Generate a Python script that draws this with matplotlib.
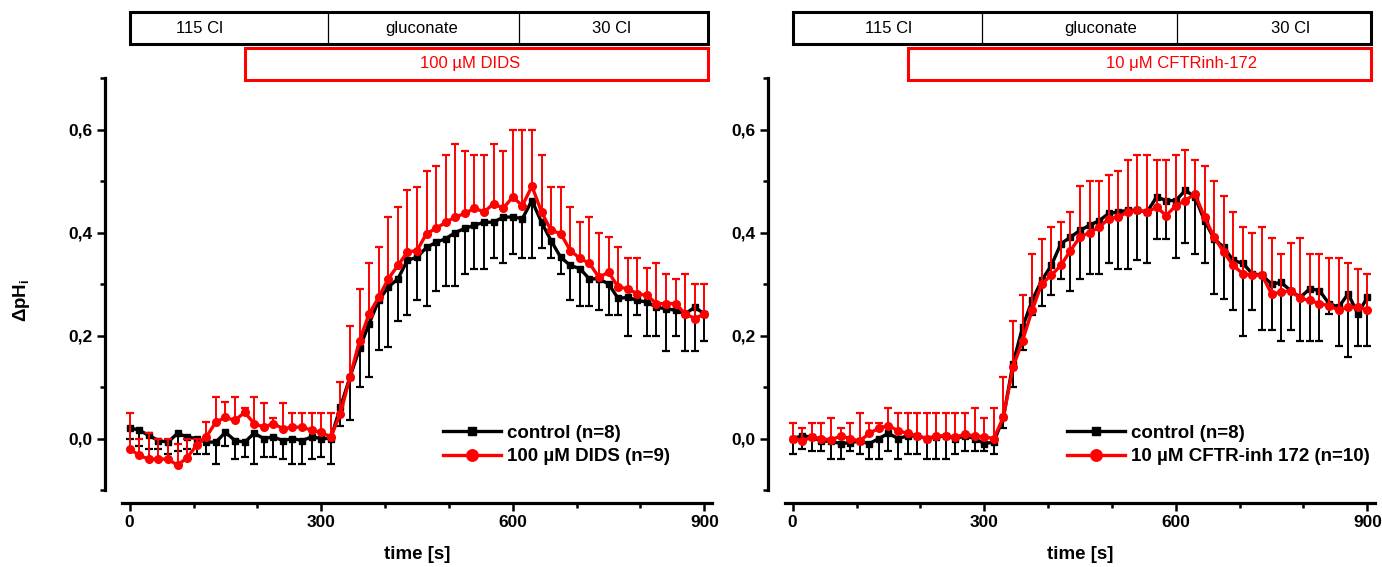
import matplotlib.pyplot as plt
from matplotlib.patches import Rectangle
from matplotlib.transforms import blended_transform_factory
from matplotlib.ticker import FixedLocator, FuncFormatter

plt.rcParams['font.family'] = ['Liberation Sans', 'DejaVu Sans']
plt.rcParams['font.weight'] = 'bold'
plt.rcParams['mathtext.fontset'] = 'custom'
plt.rcParams['mathtext.rm'] = 'Liberation Sans:bold'
plt.rcParams['mathtext.it'] = 'Liberation Sans:bold'

# time axis (s)
time = list(range(0, 901, 15))

# left panel: control vs 100 uM DIDS
ctrl_L = [0.021, 0.016, 0.006, -0.004, -0.007, 0.010, 0.003, 0.000, -0.007, -0.007, 0.012,
          -0.004, -0.007, 0.010, 0.000, 0.003, -0.004, 0.000, -0.004, 0.003, 0.000,
          0.000, 0.061, 0.119, 0.175, 0.223, 0.268, 0.294, 0.310, 0.346, 0.352,
          0.371, 0.381, 0.388, 0.400, 0.408, 0.414, 0.420, 0.420, 0.430, 0.430,
          0.427, 0.462, 0.420, 0.384, 0.352, 0.336, 0.330, 0.310, 0.310, 0.300,
          0.272, 0.274, 0.268, 0.265, 0.255, 0.252, 0.249, 0.242, 0.255, 0.242]
ctrl_lo_L = [0.0, -0.014, -0.02, -0.02, -0.03, -0.025, -0.02, -0.03, -0.03, -0.05, -0.015,
             -0.04, -0.035, -0.05, -0.035, -0.035, -0.04, -0.05, -0.05, -0.04, -0.035,
             -0.05, 0.025, 0.035, 0.10, 0.119, 0.171, 0.177, 0.229, 0.239, 0.268,
             0.258, 0.287, 0.297, 0.297, 0.32, 0.33, 0.33, 0.35, 0.34, 0.359,
             0.35, 0.35, 0.369, 0.35, 0.32, 0.268, 0.258, 0.258, 0.249, 0.239,
             0.239, 0.20, 0.239, 0.20, 0.20, 0.17, 0.20, 0.17, 0.17, 0.19]
dids_L = [-0.02, -0.033, -0.04, -0.04, -0.04, -0.052, -0.037, -0.013, 0.003, 0.032, 0.041,
          0.035, 0.051, 0.029, 0.022, 0.029, 0.019, 0.022, 0.022, 0.016, 0.012,
          0.003, 0.048, 0.119, 0.19, 0.242, 0.274, 0.31, 0.336, 0.362, 0.365,
          0.398, 0.408, 0.42, 0.43, 0.437, 0.447, 0.44, 0.456, 0.447, 0.469,
          0.452, 0.49, 0.44, 0.404, 0.398, 0.365, 0.35, 0.34, 0.313, 0.323,
          0.294, 0.291, 0.281, 0.278, 0.262, 0.262, 0.262, 0.242, 0.233, 0.242]
dids_hi_L = [0.05, 0.0, 0.01, 0.0, 0.0, -0.01, 0.0, 0.0, 0.032, 0.08, 0.07,
             0.08, 0.06, 0.08, 0.068, 0.039, 0.068, 0.05, 0.05, 0.05, 0.05,
             0.05, 0.109, 0.219, 0.291, 0.34, 0.371, 0.43, 0.449, 0.482, 0.489,
             0.519, 0.53, 0.55, 0.571, 0.559, 0.55, 0.55, 0.571, 0.559, 0.60,
             0.60, 0.60, 0.55, 0.489, 0.489, 0.449, 0.42, 0.43, 0.40, 0.391,
             0.371, 0.351, 0.351, 0.331, 0.34, 0.32, 0.31, 0.32, 0.30, 0.30]

# right panel: control vs 10 uM CFTRinh-172
ctrl_R = [0.0, 0.005, 0.003, -0.005, -0.005, -0.01, -0.008, -0.005, -0.01, 0.0, 0.01,
          0.0, 0.005, 0.005, 0.0, 0.003, 0.005, 0.0, 0.005, 0.0, -0.01,
          -0.007, 0.041, 0.145, 0.216, 0.268, 0.307, 0.336, 0.378, 0.391, 0.404,
          0.414, 0.423, 0.437, 0.44, 0.443, 0.443, 0.44, 0.469, 0.462, 0.462,
          0.482, 0.469, 0.423, 0.388, 0.371, 0.346, 0.34, 0.32, 0.317, 0.30,
          0.303, 0.287, 0.274, 0.291, 0.287, 0.262, 0.255, 0.281, 0.242, 0.274]
ctrl_lo_R = [-0.03, -0.02, -0.025, -0.025, -0.04, -0.04, -0.025, -0.03, -0.04, -0.04, -0.025,
             -0.04, -0.03, -0.03, -0.04, -0.04, -0.04, -0.03, -0.025, -0.025, -0.025,
             -0.03, 0.02, 0.10, 0.171, 0.239, 0.258, 0.278, 0.31, 0.287, 0.31,
             0.32, 0.32, 0.34, 0.33, 0.33, 0.346, 0.34, 0.388, 0.388, 0.35,
             0.379, 0.359, 0.34, 0.28, 0.27, 0.249, 0.20, 0.249, 0.21, 0.21,
             0.189, 0.21, 0.189, 0.189, 0.189, 0.241, 0.179, 0.159, 0.179, 0.179]
cftr_R = [0.0, -0.005, 0.003, 0.0, -0.003, 0.005, 0.0, -0.005, 0.01, 0.02, 0.025,
          0.015, 0.01, 0.005, 0.0, 0.005, 0.005, 0.003, 0.008, 0.005, 0.003,
          0.0, 0.041, 0.138, 0.19, 0.249, 0.30, 0.317, 0.336, 0.365, 0.391,
          0.40, 0.41, 0.427, 0.43, 0.44, 0.443, 0.44, 0.449, 0.433, 0.452,
          0.462, 0.475, 0.43, 0.391, 0.362, 0.336, 0.32, 0.317, 0.317, 0.281,
          0.284, 0.287, 0.272, 0.268, 0.262, 0.258, 0.249, 0.255, 0.255, 0.249]
cftr_hi_R = [0.03, 0.02, 0.03, 0.03, 0.04, 0.02, 0.03, 0.05, 0.03, 0.03, 0.06,
             0.05, 0.05, 0.05, 0.05, 0.05, 0.05, 0.05, 0.05, 0.06, 0.04,
             0.06, 0.119, 0.229, 0.278, 0.359, 0.388, 0.41, 0.42, 0.44, 0.491,
             0.50, 0.50, 0.511, 0.519, 0.54, 0.55, 0.55, 0.54, 0.54, 0.55,
             0.56, 0.54, 0.53, 0.50, 0.47, 0.44, 0.41, 0.40, 0.41, 0.39,
             0.359, 0.379, 0.39, 0.359, 0.359, 0.35, 0.35, 0.34, 0.33, 0.32]

# solution protocol bars above each panel
phases = ['115 Cl', 'gluconate', '30 Cl']
phase_edges_L = [0, 311, 610, 905]
phase_edges_R = [0, 297, 602, 905]
phase_text_L = [110, 457, 755]
phase_text_R = [150, 482, 779]
drug_start = 180


def draw_panel(ax, ctrl, ctrl_lo, treat, treat_hi, treat_label, drug_label,
               edges, text_x, drug_text_x, legend_x):
    # control: downward error bars
    ax.vlines(time, ctrl_lo, ctrl, color='black', lw=1.4, zorder=2)
    ax.plot(time, ctrl_lo, ls='none', marker='_', ms=5.5, mew=1.6, color='black', zorder=2)
    ax.plot(time, ctrl, color='black', lw=2.4, marker='s', ms=4.3, zorder=3,
            label='control (n=8)')
    # treatment: upward error bars
    ax.vlines(time, treat, treat_hi, color='red', lw=1.4, zorder=4)
    ax.plot(time, treat_hi, ls='none', marker='_', ms=5.5, mew=1.6, color='red', zorder=4)
    ax.plot(time, treat, color='red', lw=2.4, marker='o', ms=5.5, zorder=5,
            label=treat_label)

    ax.set_xlim(-12, 912)
    ax.set_ylim(-0.1, 0.7)
    ax.xaxis.set_major_locator(FixedLocator([0, 300, 600, 900]))
    ax.xaxis.set_minor_locator(FixedLocator([100, 200, 400, 500, 700, 800]))
    ax.yaxis.set_major_locator(FixedLocator([0, 0.2, 0.4, 0.6]))
    ax.yaxis.set_minor_locator(FixedLocator([-0.1, 0.1, 0.3, 0.5, 0.7]))
    ax.yaxis.set_major_formatter(FuncFormatter(lambda v, p: f'{v:.1f}'.replace('.', ',')))
    ax.tick_params(which='major', direction='out', length=6, width=1.8,
                   labelsize=12.5, pad=3)
    ax.tick_params(which='minor', direction='out', length=3.5, width=1.8)
    for s in ['top', 'right']:
        ax.spines[s].set_visible(False)
    ax.spines['left'].set_position(('outward', 12))
    ax.spines['bottom'].set_position(('outward', 9))
    for s in ['left', 'bottom']:
        ax.spines[s].set_linewidth(2.3)

    ax.set_xlabel('time [s]', fontsize=13.5, fontweight='bold')
    ax.xaxis.set_label_coords(0.5, -0.136)

    ax.legend(loc='lower left', bbox_to_anchor=(legend_x, 0.06), frameon=False,
              fontsize=13.5, handlelength=3.1, handletextpad=0.3, labelspacing=0.35,
              borderpad=0, borderaxespad=0, numpoints=1, markerscale=1.5)

    trans = blended_transform_factory(ax.transData, ax.transAxes)
    ax.add_patch(Rectangle((edges[0], 1.082), edges[-1] - edges[0], 0.077,
                           transform=trans, clip_on=False, fill=False,
                           edgecolor='black', lw=2.2))
    for e in edges[1:-1]:
        ax.plot([e, e], [1.082, 1.159], transform=trans, clip_on=False,
                color='black', lw=0.9)
    for label, x in zip(phases, text_x):
        ax.text(x, 1.12, label, transform=trans, ha='center', va='center',
                fontsize=12, fontweight='normal')
    ax.add_patch(Rectangle((drug_start, 0.995), edges[-1] - drug_start, 0.0785,
                           transform=trans, clip_on=False, fill=False,
                           edgecolor='red', lw=2.2))
    ax.text(drug_text_x, 1.034, drug_label, transform=trans, ha='center', va='center',
            fontsize=12, fontweight='normal', color='red')


fig = plt.figure(figsize=(13.82, 5.67), dpi=100)
axL = fig.add_axes([122 / 1382, 1 - 490 / 567, 590 / 1382, 412 / 567])
axR = fig.add_axes([785 / 1382, 1 - 490 / 567, 590 / 1382, 412 / 567])

draw_panel(axL, ctrl_L, ctrl_lo_L, dids_L, dids_hi_L, '100 µM DIDS (n=9)', '100 µM DIDS',
           phase_edges_L, phase_text_L, 533, 0.544)
draw_panel(axR, ctrl_R, ctrl_lo_R, cftr_R, cftr_hi_R, '10 µM CFTR-inh 172 (n=10)',
           '10 μM CFTRinh-172', phase_edges_R, phase_text_R, 609, 0.478)

fig.text(22 / 1382, 1 - 300 / 567, 'ΔpH$_i$', rotation=90, ha='center', va='center',
         fontsize=13.5, fontweight='bold')

fig.savefig('out.png', dpi=100)
